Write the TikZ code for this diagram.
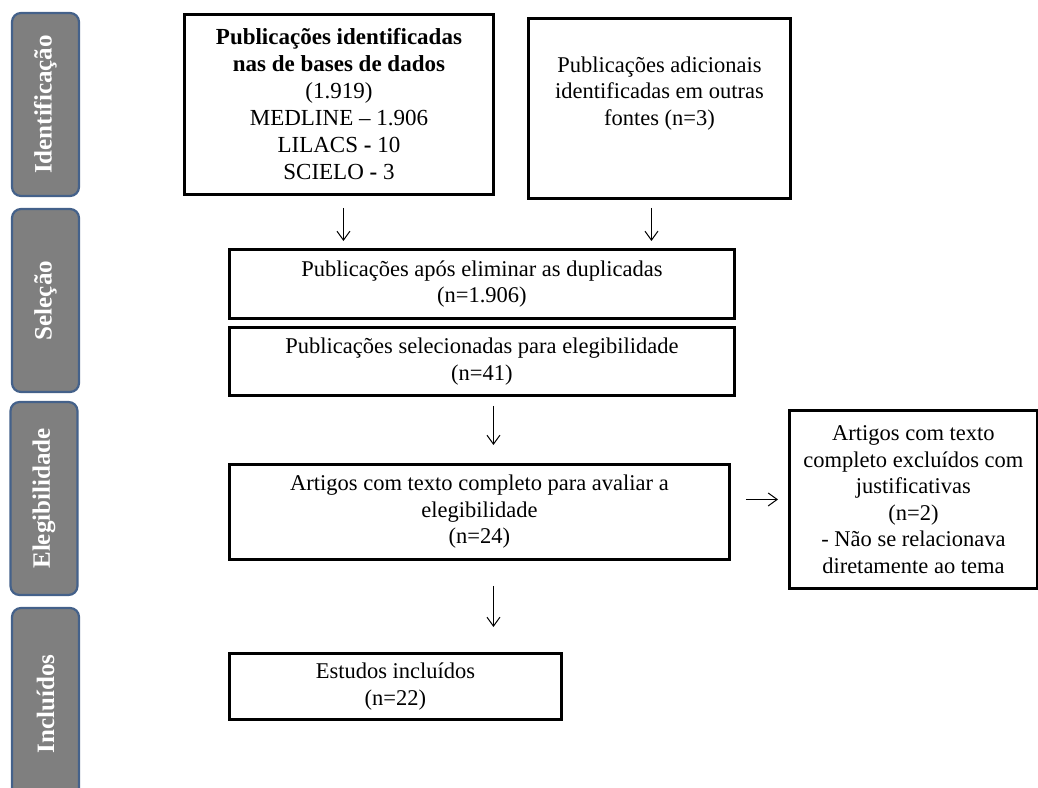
\documentclass[tikz,border=0pt]{standalone}
\usepackage{fontspec}
\setmainfont{Liberation Serif}
\usetikzlibrary{arrows.meta,calc}
\definecolor{tabfill}{HTML}{7F7F7F}
\definecolor{tabline}{HTML}{44618A}
\begin{document}
\begin{tikzpicture}[x=1pt,y=1pt,
  box/.style={draw=black, line width=2.9pt, fill=white, inner sep=0pt, anchor=north west, align=center, font=\fontsize{22.5}{26.5}\selectfont},
  tab/.style={draw=tabline, line width=2.2pt, fill=tabfill, rounded corners=9pt, inner sep=0pt, rotate=90, minimum height=67pt, text=white, font=\bfseries\fontsize{25}{28}\selectfont},
  arr/.style={-{Straight Barb[length=9pt,width=13pt]}, line width=1pt}]
\useasboundingbox (0,0) rectangle (1038,-787);
\clip (0,0) rectangle (1038,-787);
% stage tabs
\node[tab, minimum width=183pt] (t1) at (45.5,-104.5) {Identificação};
\node[tab, minimum width=183pt] (t2) at (45.5,-300.5) {Seleção};
\node[tab, minimum width=193pt] (t3) at (44,-498.5) {Elegibilidade};
\node[tab, minimum width=192pt] (t4) at (45.5,-704) {Incluídos};
% boxes
\node[box, minimum width=309pt, minimum height=180pt, font=\fontsize{23}{27}\selectfont] (b1) at (183,-13)
  {\textbf{Publicações identificadas}\\ \textbf{nas de bases de dados}\\ (1.919)\\ MEDLINE – 1.906\\ LILACS \textbf{-} 10\\ SCIELO \textbf{-} 3};
\node[box, minimum width=262pt, minimum height=180pt] (b2) at (527,-17)
  {\parbox[c][180pt][t]{262pt}{\centering\vspace*{38pt}Publicações adicionais\\ identificadas em outras\\ fontes (n=3)}};
\node[box, minimum width=505pt, minimum height=69pt] (b3) at (228,-248)
  {Publicações após eliminar as duplicadas\\ (n=1.906)};
\node[box, minimum width=505pt, minimum height=68pt] (b4) at (228,-326)
  {Publicações selecionadas para elegibilidade\\ (n=41)};
\node[box, minimum width=500pt, minimum height=95pt] (b5) at (228,-463)
  {Artigos com texto completo para avaliar a\\ elegibilidade\\ (n=24)};
\node[box, minimum width=248pt, minimum height=178pt] (b6) at (788,-409)
  {Artigos com texto\\ completo excluídos com\\ justificativas\\ (n=2)\\ - Não se relacionava\\ diretamente ao tema};
\node[box, minimum width=332pt, minimum height=66pt] (b7) at (228,-652)
  {Estudos incluídos\\ (n=22)};
% connectors
\draw[arr, shorten <=12pt, shorten >=7pt] ([xshift=4.5pt]b1.south) -- ([xshift=4.5pt]b1.south |- b3.north);
\draw[arr, shorten <=8pt, shorten >=7pt] ([xshift=-8pt]b2.south) -- ([xshift=-8pt]b2.south |- b3.north);
\draw[arr, shorten <=9pt, shorten >=18pt] ([xshift=11.5pt]b4.south) -- ([xshift=11.5pt]b4.south |- b5.north);
\draw[arr, shorten <=25pt, shorten >=25pt] ([xshift=14pt]b5.south) -- ([xshift=14pt]b5.south |- b7.north);
\draw[arr, shorten <=15pt, shorten >=10pt] (b5.east |- b6.west) -- (b6.west);
\end{tikzpicture}
\end{document}
